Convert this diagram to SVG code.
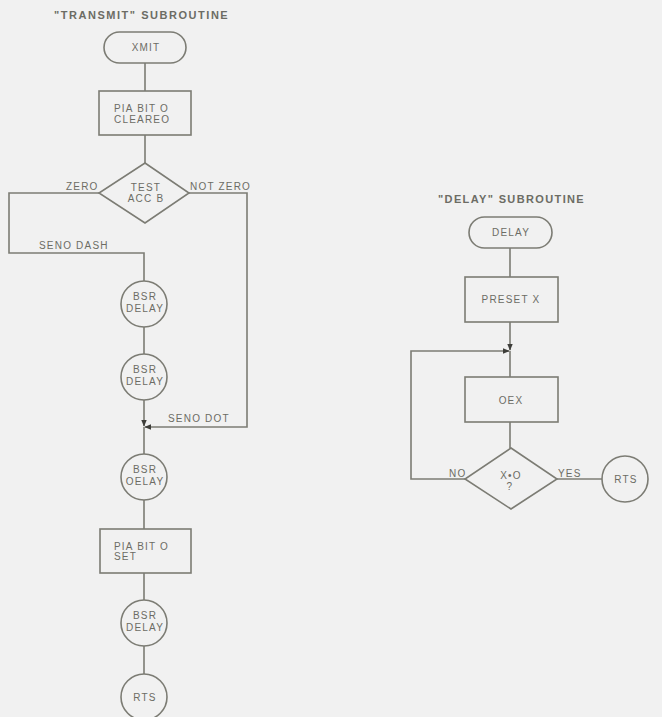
<svg xmlns="http://www.w3.org/2000/svg" width="662" height="717" viewBox="0 0 662 717">
<defs>
<style>
.bg{fill:#f1f1f1}
.s{fill:none;stroke:#7c7c74;stroke-width:1.6}
.t{font-family:"Liberation Sans",Arial,sans-serif;font-size:10px;fill:#6c6c64;letter-spacing:1.2px}
.c{text-anchor:middle}
.h{font-family:"Liberation Sans",Arial,sans-serif;font-size:11px;font-weight:bold;fill:#6c6c64;letter-spacing:1.3px}
</style>
<marker id="ah" viewBox="0 0 10 10" refX="9" refY="5" markerWidth="7" markerHeight="7" markerUnits="userSpaceOnUse" orient="auto">
<path d="M0,1 L10,5 L0,9 Z" fill="#3e3e3a"/>
</marker>
</defs>
<rect class="bg" x="0" y="0" width="662" height="717"/>
<text class="h" x="54" y="19" textLength="175" lengthAdjust="spacing">"TRANSMIT" SUBROUTINE</text>
<text class="h" x="438" y="203" textLength="147" lengthAdjust="spacing">"DELAY" SUBROUTINE</text>

<g id="connectors">
<path class="s" d="M145,63 V91"/>
<path class="s" d="M145,135 V163"/>
<path class="s" d="M99,193 H9 V253 H144 V281"/>
<path class="s" d="M189,193 H247 V427 H145" marker-end="url(#ah)"/>
<path class="s" d="M144,327 V354"/>
<path class="s" d="M144,400 V426" marker-end="url(#ah)"/>
<path class="s" d="M144,427 V454"/>
<path class="s" d="M144,500 V529"/>
<path class="s" d="M144,573 V600"/>
<path class="s" d="M144,646 V674"/>
<path class="s" d="M510,248 V277"/>
<path class="s" d="M510,322 V350" marker-end="url(#ah)"/>
<path class="s" d="M510,351 V377"/>
<path class="s" d="M510,422 V448"/>
<path class="s" d="M465,479 H411 V351 H509" marker-end="url(#ah)"/>
<path class="s" d="M557,479 H602"/>
<text class="t" x="66" y="190">ZERO</text>
<text class="t" x="190" y="190">NOT ZERO</text>
<text class="t" x="39" y="249">SENO DASH</text>
<text class="t" x="168" y="422">SENO DOT</text>
<text class="t" x="449" y="477">NO</text>
<text class="t" x="558" y="477">YES</text>
</g>

<g id="xmit">
<rect class="s" x="104" y="32" width="82" height="31" rx="15.5"/>
<text class="t c" x="146" y="51">XMIT</text>
</g>
<g id="clear">
<rect class="s" x="99" y="91" width="92" height="44"/>
<text class="t" x="114" y="112">PIA BIT O</text>
<text class="t" x="114" y="123">CLEAREO</text>
</g>
<g id="test">
<path class="s" d="M145,163 L189,193 L145,223 L99,193 Z"/>
<text class="t c" x="146" y="191">TEST</text>
<text class="t c" x="146" y="202">ACC B</text>
</g>
<g id="bsr1">
<circle class="s" cx="144" cy="304" r="23"/>
<text class="t c" x="145" y="300">BSR</text>
<text class="t c" x="145" y="312">DELAY</text>
</g>
<g id="bsr2">
<circle class="s" cx="144" cy="377" r="23"/>
<text class="t c" x="145" y="373">BSR</text>
<text class="t c" x="145" y="385">DELAY</text>
</g>
<g id="bsr3">
<circle class="s" cx="144" cy="477" r="23"/>
<text class="t c" x="145" y="473">BSR</text>
<text class="t c" x="145" y="485">OELAY</text>
</g>
<g id="set">
<rect class="s" x="100" y="529" width="91" height="44"/>
<text class="t" x="114" y="550">PIA BIT O</text>
<text class="t" x="114" y="560">SET</text>
</g>
<g id="bsr4">
<circle class="s" cx="144" cy="623" r="23"/>
<text class="t c" x="145" y="619">BSR</text>
<text class="t c" x="145" y="631">DELAY</text>
</g>
<g id="rts1">
<circle class="s" cx="144" cy="697" r="23"/>
<text class="t c" x="145" y="701">RTS</text>
</g>

<g id="delay">
<rect class="s" x="469" y="217" width="83" height="31" rx="15.5"/>
<text class="t c" x="511" y="236">DELAY</text>
</g>
<g id="preset">
<rect class="s" x="465" y="277" width="93" height="45"/>
<text class="t c" x="511" y="303">PRESET X</text>
</g>
<g id="dex">
<rect class="s" x="465" y="377" width="93" height="45"/>
<text class="t c" x="511" y="404">OEX</text>
</g>
<g id="xzero">
<path class="s" d="M511,448 L557,479 L511,509 L465,479 Z"/>
<text class="t c" x="511" y="479">X•O</text>
<text class="t c" x="510" y="490">?</text>
</g>
<g id="rts2">
<circle class="s" cx="625" cy="479" r="23"/>
<text class="t c" x="626" y="483">RTS</text>
</g>
</svg>
